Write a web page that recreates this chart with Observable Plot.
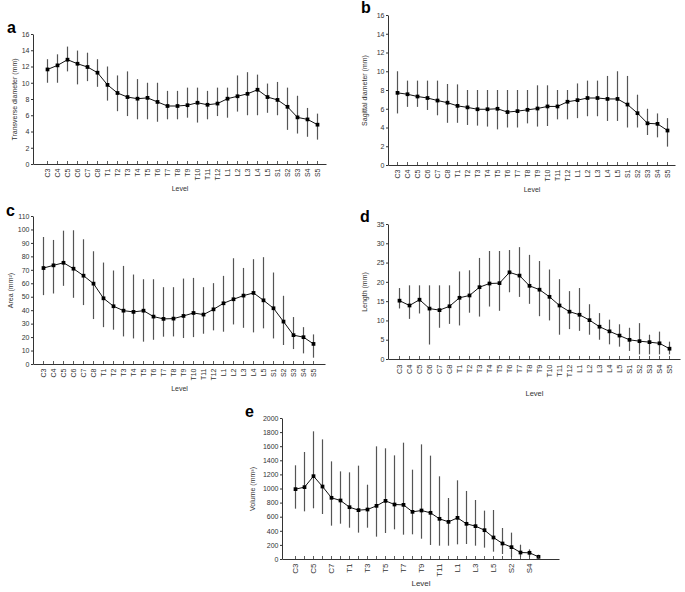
<!DOCTYPE html>
<html><head><meta charset="utf-8">
<script src="https://cdn.jsdelivr.net/npm/d3@7"></script>
<script src="https://cdn.jsdelivr.net/npm/@observablehq/plot@0.6"></script>
<style>
body{margin:0;background:#fff;font-family:"Liberation Sans",Arial,sans-serif;}
#wrap{position:relative;width:685px;height:592px;overflow:hidden;background:#fff}
.panel{position:absolute}
.lab{position:absolute;font-weight:bold;font-size:16px;line-height:1;font-family:"Liberation Sans",Arial,sans-serif;color:#000}
</style></head><body><div id="wrap"></div>
<script>
const levels = ["C3","C4","C5","C6","C7","C8","T1","T2","T3","T4","T5","T6","T7","T8","T9","T10","T11","T12","L1","L2","L3","L4","L5","S1","S2","S3","S4","S5"];

const transverseMean = [11.7,12.2,12.9,12.4,12.0,11.3,9.8,8.8,8.3,8.1,8.2,7.7,7.2,7.2,7.3,7.6,7.35,7.5,8.1,8.4,8.7,9.2,8.3,7.95,7.1,5.8,5.55,4.9];
const transverseLo = [10.0,10.0,11.4,9.8,10.2,9.5,7.8,6.5,5.9,5.5,5.5,5.2,5.5,5.5,5.7,5.1,5.5,5.9,5.7,6.45,6.0,6.0,6.3,6.0,4.2,3.75,3.35,3.0];
const transverseHi = [12.9,13.5,14.45,13.96,13.7,12.9,12.0,10.9,11.4,10.45,10.0,10.0,9.0,9.0,9.4,9.4,9.0,9.4,9.4,10.9,11.3,11.0,9.9,10.1,9.4,8.4,6.9,6.2];

const sagittalMean = [7.75,7.6,7.36,7.2,6.93,6.7,6.36,6.2,6.0,6.0,6.05,5.7,5.8,5.94,6.08,6.3,6.3,6.8,6.97,7.2,7.2,7.1,7.1,6.5,5.58,4.5,4.44,3.73];
const sagittalLo = [5.5,6.2,6.2,5.87,5.3,4.5,4.5,4.27,4.2,4.1,3.8,4.0,4.0,4.44,4.1,4.16,4.87,4.87,5.0,5.2,5.2,4.7,4.7,4.0,4.0,3.2,2.95,1.96];
const sagittalHi = [10.0,9.0,9.0,9.0,9.0,8.64,8.6,8.0,8.0,8.0,8.0,8.0,8.0,8.0,8.5,8.5,8.0,8.0,8.7,9.0,9.0,9.5,10.0,9.5,7.5,6.0,5.5,5.0];

const areaMean = [71.7,73.7,75.6,71.2,66.0,60.1,49.2,43.3,40.0,39.1,40.0,35.6,33.9,34.1,36.1,38.3,37.1,41.0,45.5,48.5,51.2,53.2,47.7,41.8,31.9,21.8,20.3,15.3];
const areaLo = [51.2,52.4,58.1,49.2,43.8,33.4,27.4,25.5,20.5,19.0,16.6,18.0,20.3,20.5,19.3,20.0,22.5,25.0,24.0,29.4,26.9,23.5,26.5,19.0,14.1,11.1,7.9,4.7];
const areaHi = [94.4,92.2,99.1,99.4,92.7,83.8,75.4,69.5,72.9,66.5,63.0,63.0,57.1,57.1,63.5,64.0,57.1,60.1,65.5,78.6,71.4,77.9,79.4,68.0,50.7,34.9,27.4,22.0];

const lengthMean = [15.25,14.0,15.5,13.2,12.8,13.8,16.0,16.6,18.75,19.7,19.8,22.6,21.75,19.1,18.1,16.25,14.0,12.4,11.6,10.2,8.5,7.3,6.2,5.1,4.75,4.5,4.2,2.8];
const lengthLo = [13.1,10.4,11.8,3.75,8.1,9.1,8.7,12.0,11.0,13.6,12.5,17.3,16.1,14.3,11.1,10.0,6.3,7.75,7.3,6.3,5.0,3.8,3.2,2.1,1.2,1.2,1.2,1.2];
const lengthHi = [18.4,19.1,19.1,19.1,19.1,19.1,22.7,23.0,26.2,28.0,28.0,28.25,29.0,27.0,25.4,23.2,20.7,17.6,18.4,14.2,11.9,10.2,9.0,8.1,9.3,6.3,7.1,4.5];

const volumeMean = [998,1026,1182,1035,875,837,742,700,709,761,832,780,775,676,695,662,577,534,591,506,473,416,312,227,175,99,95,38];
const volumeLo = [714,676,719,638,473,501,444,374,444,317,369,421,345,350,288,199,189,189,208,213,189,161,104,71,33,33,33,14];
const volumeHi = [1329,1518,1811,1697,1385,1243,1229,1324,1054,1598,1570,1470,1650,1267,1626,1466,1173,865,1116,965,837,686,695,440,374,203,137,61];

const ticksA = [0,2,4,6,8,10,12,14,16];
const ticksB = [0,2,4,6,8,10,12,14,16];
const ticksC = [0,10,20,30,40,50,60,70,80,90,100,110];
const ticksD = [0,5,10,15,20,25,30,35];
const ticksE = [0,200,400,600,800,1000,1200,1400,1600,1800,2000];
const eLabels = levels.filter((d, i) => i % 2 === 0);

const wrap = document.getElementById("wrap");

function rows(mean, lo, hi) {
  return levels.map((level, i) => ({level, mean: mean[i], lo: lo[i], hi: hi[i]}));
}

function panel(cfg) {
  const data = rows(cfg.mean, cfg.lo, cfg.hi);
  const innerH = cfg.height - cfg.mt - cfg.mb;
  const innerW = cfg.width - cfg.ml - cfg.mr;
  const fs = cfg.fs || 7;
  const p = Plot.plot({
    width: cfg.width, height: cfg.height,
    marginLeft: cfg.ml, marginRight: cfg.mr, marginTop: cfg.mt, marginBottom: cfg.mb,
    style: {fontFamily: "Liberation Sans, Arial, sans-serif", fontSize: fs + "px", color: "#333", background: "transparent"},
    x: {type: "point", domain: levels, padding: cfg.pad, align: cfg.align},
    y: {domain: cfg.yDomain},
    marks: [
      Plot.frame({stroke: "#333", strokeWidth: 1, strokeDasharray: `0 ${innerW + innerH} ${innerW + innerH}`}),
      Plot.ruleX(data, {x: "level", y1: "lo", y2: "hi", stroke: "#555", strokeWidth: 1.2}),
      Plot.line(data, {x: "level", y: "mean", stroke: "#111", strokeWidth: 1}),
      Plot.dot(data, {x: "level", y: "mean", fill: "#000", stroke: "none", r: 2.1, symbol: "square"}),
      Plot.tickX(levels, {x: d => d, insetTop: innerH - 3, stroke: "#333", strokeWidth: 0.8}),
      Plot.axisY({ticks: cfg.yTicks, tickFormat: d3.format("d"), tickSize: 2, tickPadding: 2, stroke: "#333", fill: "#333", fontSize: 7,
        label: cfg.yLabel, labelAnchor: "center", labelOffset: cfg.yLabelOffset, labelArrow: false}),
      Plot.axisX({ticks: cfg.xTicks || levels, tickSize: 0, tickPadding: cfg.xPad || 4, tickRotate: -90, stroke: "#333", fill: "#333", fontSize: fs,
        label: "Level", labelAnchor: "center", labelOffset: cfg.xLabelOffset, labelArrow: false})
    ]
  });
  const div = document.createElement("div");
  div.className = "panel";
  div.style.left = cfg.left + "px";
  div.style.top = cfg.top + "px";
  div.appendChild(p);
  wrap.appendChild(div);
  const lab = document.createElement("div");
  lab.className = "lab";
  lab.textContent = cfg.letter;
  lab.style.left = cfg.lx + "px";
  lab.style.top = cfg.ly + "px";
  wrap.appendChild(lab);
}

panel({letter: "a", lx: 7, ly: 20, left: 0, top: 0, width: 340, height: 200, ml: 33, mr: 14, mt: 34, mb: 36,
  pad: 0.48, align: 0.6, yDomain: [0, 16], yTicks: ticksA, yLabel: "Transverse diameter (mm)", yLabelOffset: 21, xLabelOffset: 26,
  mean: transverseMean, lo: transverseLo, hi: transverseHi});
panel({letter: "b", lx: 361, ly: 0, left: 340, top: 0, width: 345, height: 200, ml: 48, mr: 10, mt: 15, mb: 35,
  pad: 0.44, align: 0.55, yDomain: [0, 16], yTicks: ticksB, yLabel: "Sagittal diameter (mm)", yLabelOffset: 26, xLabelOffset: 26,
  mean: sagittalMean, lo: sagittalLo, hi: sagittalHi});
panel({letter: "c", lx: 6, ly: 203, left: 0, top: 195, width: 340, height: 200, ml: 33, mr: 15, mt: 21, mb: 31,
  pad: 0.63, align: 0.46, yDomain: [0, 110], yTicks: ticksC, yLabel: "Area (mm²)", yLabelOffset: 25, xLabelOffset: 26,
  mean: areaMean, lo: areaLo, hi: areaHi});
panel({letter: "d", lx: 360, ly: 209, left: 340, top: 195, width: 345, height: 205, ml: 48, mr: 5, mt: 29, mb: 41,
  pad: 0.48, align: 0.5, yDomain: [0, 35], yTicks: ticksD, yLabel: "Length (mm)", yLabelOffset: 26, xLabelOffset: 36, fs: 7.5, xPad: 5,
  mean: lengthMean, lo: lengthLo, hi: lengthHi});
panel({letter: "e", lx: 245, ly: 404, left: 200, top: 395, width: 365, height: 197, ml: 82, mr: 6, mt: 23, mb: 33,
  pad: 0.45, align: 0.37, yDomain: [0, 2000], yTicks: ticksE, yLabel: "Volume (mm³)", yLabelOffset: 32, xLabelOffset: 26, fs: 8,
  xTicks: eLabels, mean: volumeMean, lo: volumeLo, hi: volumeHi});
</script></body></html>
